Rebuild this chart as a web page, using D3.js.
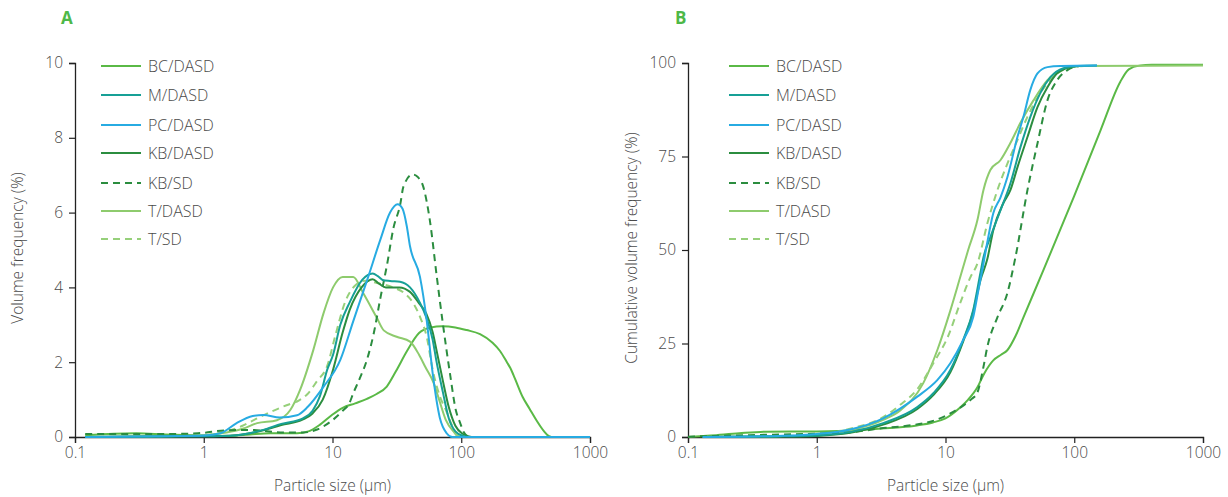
<!DOCTYPE html>
<html>
<head>
<meta charset="utf-8">
<script src="https://cdn.jsdelivr.net/npm/d3@7"></script>
<style>
  html, body { margin: 0; padding: 0; background: #fff; }
  svg { display: block; font-family: "Open Sans", "Noto Sans", sans-serif; }
  .title { fill: #4a4a4a; font-size: 15.5px; font-weight: 300; }
  .leg { fill: #4a4a4a; font-size: 16px; font-weight: 300; }
</style>
</head>
<body>
<svg id="chart" width="1228" height="497"></svg>
<script>
// ---------- data ----------
const seriesNames = ["BC/DASD", "M/DASD", "PC/DASD", "KB/DASD", "KB/SD", "T/DASD", "T/SD"];
const xTickValues = [0.1, 1, 10, 100, 1000];
const xTickLabels = ["0.1", "1", "10", "100", "1000"];
const yTicksA = [0, 2, 4, 6, 8, 10];
const yTicksB = [0, 25, 50, 75, 100];

// Panel A: volume frequency (%) vs particle size (µm)
const freqBC = [[0.12,0.05],[0.2,0.09],[0.3,0.1],[0.5,0.07],[1,0.04],[1.6,0.03],[2.3,0.07],[3.3,0.1],[5.3,0.1],[6.5,0.15],[8,0.33],[10,0.6],[12,0.78],[15,0.9],[18.5,1.02],[22,1.15],[26.4,1.35],[31,1.75],[37.9,2.3],[47,2.78],[58,2.93],[71,2.96],[90,2.93],[110,2.86],[140,2.75],[175,2.52],[200,2.3],[228,1.98],[240,1.85],[255,1.65],[300,1.07],[340,0.75],[388,0.42],[440,0.15],[480,0.02],[500,0]];
const freqM = [[0.12,0],[1,0.02],[1.8,0.05],[2.9,0.19],[4,0.35],[5.9,0.5],[7,0.7],[8,1.1],[9.1,1.8],[10.1,2.2],[11.5,3.0],[13.6,3.6],[17,4.2],[20.5,4.37],[22.5,4.3],[24.5,4.2],[28,4.17],[33.4,4.15],[40,4.0],[47.6,3.6],[53.5,3.2],[60,2.6],[64,2.05],[72,1.2],[80,0.5],[90,0.15],[103,0.03],[115,0],[1000,0]];
const freqPC = [[0.12,0],[0.5,0.02],[1,0.04],[1.35,0.1],[1.8,0.37],[2.4,0.56],[2.9,0.59],[3.9,0.52],[5.3,0.58],[6.4,0.8],[8.5,1.34],[11.5,2.06],[14.5,3.1],[18.6,4.2],[23.5,5.27],[28,6.0],[32,6.22],[35,6.1],[37.7,5.65],[40,5.1],[47.8,4.28],[54,3.1],[60,1.7],[68,0.53],[77,0.1],[85,0],[1000,0]];
const freqKB = [[0.12,0],[1,0.02],[1.8,0.05],[2.9,0.18],[4,0.32],[5.9,0.47],[7,0.63],[8.4,1.0],[10.1,1.8],[12,2.8],[13.6,3.4],[17,4.02],[20.5,4.22],[23,4.1],[26,4.0],[33,4.0],[40,3.88],[47.6,3.55],[53.5,3.3],[60,2.8],[64,2.35],[72,1.5],[80,0.8],[90,0.3],[103,0.08],[120,0]];
const freqKBSD = [[0.12,0.08],[0.5,0.08],[0.9,0.1],[1.5,0.18],[2.3,0.19],[4.2,0.12],[5.9,0.12],[7.6,0.2],[10,0.45],[12,0.7],[13.5,0.9],[14.5,1.17],[16.2,1.55],[18.5,2.06],[21,2.8],[23.5,3.7],[26.5,4.6],[29.8,5.6],[33.5,6.2],[35.6,6.7],[42,7.02],[46,6.95],[50.6,6.7],[57,5.8],[64.6,4.28],[72.5,2.95],[81.7,1.7],[91,0.7],[97.5,0.4],[105,0.12],[115,0]];
const freqT = [[0.12,0],[0.5,0.02],[1,0.05],[1.5,0.12],[2,0.22],[2.6,0.37],[3.7,0.45],[4.7,0.72],[5.6,1.26],[7.1,2.33],[8.5,3.3],[10.1,4.0],[12,4.28],[14.5,4.28],[17.3,3.85],[22,3.2],[25,2.85],[31.5,2.68],[40,2.55],[47,2.2],[53,1.85],[61,1.45],[68,0.95],[76,0.45],[87,0.15],[95,0.02],[110,0]];
const freqTSD = [[0.12,0],[1,0.05],[1.5,0.15],[2,0.3],[2.6,0.5],[3.3,0.67],[4.4,0.85],[5.5,0.98],[6.4,1.15],[7.6,1.5],[9.1,1.9],[10.5,2.7],[12.5,3.6],[15,4.05],[18,4.18],[22,4.12],[29.5,4.0],[36,3.85],[42,3.6],[48,3.2],[54,2.67],[60,1.8],[68,1.1],[76,0.72],[85,0.3],[92,0.05],[100,0],[1000,0]];

// Panel B: cumulative volume frequency (%) vs particle size (µm)
const cumBC = [[0.1,0],[0.15,0.4],[0.25,1.0],[0.4,1.4],[1,1.5],[2,1.8],[3,2.2],[4.45,2.6],[6,3.1],[8,3.9],[10,5.0],[13,7.9],[15,10],[17.7,13.3],[20,17],[23.5,20.5],[27,22],[30.2,23.2],[35,27],[40.3,32],[57.6,44.6],[100,64.5],[160,82],[228,95],[265,98.3],[320,99.3],[400,99.5],[1000,99.5]];
const cumM = [[0.13,0],[0.5,0.15],[1,0.4],[1.82,1.3],[3.28,3.7],[6.04,8],[8.04,11.7],[10.9,17.9],[13.7,25.9],[16.4,33.9],[18.7,44],[19.7,48],[22.3,53.4],[26.7,60.6],[31.9,67.8],[38.2,77.5],[45.6,85.6],[54.6,92],[65.3,96.2],[82.4,98.6],[106,99.2],[150,99.3]];
const cumPC = [[0.13,0],[0.5,0.3],[1,0.8],[1.82,2.0],[3.28,5.0],[6.04,10.8],[8.63,15.2],[10.9,19.7],[13.7,25.9],[16.4,32],[18,39.2],[19.5,45.4],[21.1,52],[23.5,59.8],[26.7,64],[30.2,69.4],[36.2,80.2],[40.3,85.6],[45.6,92.8],[51.8,97.2],[61.9,98.9],[78,99.2],[150,99.3]];
const cumKB = [[0.13,0],[0.5,0.1],[1,0.3],[1.82,1.1],[3.28,3.3],[6.04,7.5],[8.04,11.2],[10.9,17.3],[13.7,25.5],[16.4,33.5],[18.7,42],[21.1,47.5],[23.5,55.3],[28.1,62.5],[31.9,66],[36.2,72.1],[43.3,80.2],[51.8,88.2],[61.9,93.5],[74,97.3],[93.3,98.9],[110,99.2]];
const cumKBSD = [[0.1,0.1],[0.3,0.5],[1,0.9],[2,1.4],[3.1,2.3],[5,3.0],[8,4.3],[10.9,6.3],[14,8.6],[16,10.2],[17.6,11.7],[19.7,18.7],[21.1,24],[25.3,32],[30.2,38.4],[34.9,48],[43.3,66],[51.8,78.5],[61.9,90],[74,95.5],[88.5,98.1],[110,99.2]];
const cumT = [[0.13,0],[0.5,0.2],[1,0.5],[1.82,1.8],[3.28,4.6],[4.45,7.1],[6.72,14.4],[8.63,23.2],[10.9,33.8],[13,42.7],[15,50],[17.7,58],[19.7,66],[22.3,71.4],[26.7,74],[31.9,78.6],[38.2,84],[48.2,90],[61.9,95.4],[78,98.1],[106,99.2],[1000,99.3]];
const cumTSD = [[0.13,0],[0.5,0.25],[1,0.6],[1.82,2.2],[3.28,5.3],[4.45,8.6],[6.04,12.8],[8.04,19.7],[10.4,26.7],[13,35.8],[15.6,42.7],[17.7,46.4],[21.1,57],[25.3,66],[30.2,73],[36.2,79.4],[43.3,85.6],[54.6,92],[68.9,96.3],[88.5,98.6],[120,99.2]];

// ---------- styles ----------
const colors = {"BC/DASD":"#5ab946","M/DASD":"#17a096","PC/DASD":"#27abe2","KB/DASD":"#2b8d3f","KB/SD":"#2b8d3f","T/DASD":"#8ecb6d","T/SD":"#96d07a"};
const dashed = {"KB/SD":true, "T/SD":true};
const freqData = {"BC/DASD":freqBC,"M/DASD":freqM,"PC/DASD":freqPC,"KB/DASD":freqKB,"KB/SD":freqKBSD,"T/DASD":freqT,"T/SD":freqTSD};
const cumData = {"BC/DASD":cumBC,"M/DASD":cumM,"PC/DASD":cumPC,"KB/DASD":cumKB,"KB/SD":cumKBSD,"T/DASD":cumT,"T/SD":cumTSD};
const drawOrder = ["BC/DASD","T/DASD","T/SD","KB/SD","KB/DASD","M/DASD","PC/DASD"];

const svg = d3.select("#chart");

function panel(opts) {
  const x = d3.scaleLog().domain([0.1, 1000]).range([opts.x0, opts.x1]);
  const y = d3.scaleLinear().domain([0, opts.ymax]).range([437, 63]);
  const g = svg.append("g");

  const xa = g.append("g").attr("transform", "translate(0,437)")
    .call(d3.axisBottom(x).tickValues(xTickValues)
      .tickFormat((d, i) => xTickLabels[i]).tickSizeOuter(0).tickSize(6).tickPadding(4));
  const ya = g.append("g").attr("transform", `translate(${opts.x0},0)`)
    .call(d3.axisLeft(y).tickValues(opts.yTicks).tickSizeOuter(0).tickSize(6).tickPadding(6));
  [xa, ya].forEach(a => {
    a.select(".domain").attr("stroke", "#222").attr("stroke-width", 1.3);
    a.selectAll(".tick line").attr("stroke", "#222").attr("stroke-width", 1.2);
    a.selectAll(".tick text").attr("font-family", "Open Sans, Noto Sans, sans-serif")
      .attr("font-size", "15.5px").attr("font-weight", 300).attr("fill", "#4a4a4a");
  });

  const line = d3.line().x(d => x(d[0])).y(d => y(d[1])).curve(d3.curveMonotoneX);
  drawOrder.forEach(name => {
    g.append("path").datum(opts.data[name])
      .attr("fill", "none")
      .attr("stroke", colors[name])
      .attr("stroke-width", 2)
      .attr("stroke-dasharray", dashed[name] ? "7,5" : null)
      .attr("d", line);
  });

  const rowY = [66, 95, 125, 153, 183, 211, 239];
  seriesNames.forEach((name, i) => {
    g.append("line")
      .attr("x1", opts.legX).attr("x2", opts.legX + 40)
      .attr("y1", rowY[i]).attr("y2", rowY[i])
      .attr("stroke", colors[name]).attr("stroke-width", 2)
      .attr("stroke-dasharray", dashed[name] ? "7,5" : null);
    g.append("text").attr("class", "leg")
      .attr("x", opts.legX + 47).attr("y", rowY[i]).attr("dy", "0.35em")
      .text(name);
  });

  g.append("text").attr("class", "title")
    .attr("x", (opts.x0 + opts.x1) / 2).attr("y", 491)
    .attr("text-anchor", "middle").text("Particle size (µm)");
  g.append("text").attr("class", "title")
    .attr("transform", `translate(${opts.yTitleX},248) rotate(-90)`)
    .attr("text-anchor", "middle").text(opts.yTitle);
  g.append("text")
    .attr("x", opts.letterX).attr("y", 24)
    .attr("fill", "#4db848").attr("font-weight", "bold").attr("font-size", "17px")
    .text(opts.letter);
}

panel({x0: 75, x1: 590, ymax: 10, yTicks: yTicksA, data: freqData, legX: 101,
       yTitle: "Volume frequency (%)", yTitleX: 23, letter: "A", letterX: 61});
panel({x0: 688, x1: 1203, ymax: 100, yTicks: yTicksB, data: cumData, legX: 729,
       yTitle: "Cumulative volume frequency (%)", yTitleX: 637, letter: "B", letterX: 675});
</script>
</body>
</html>
